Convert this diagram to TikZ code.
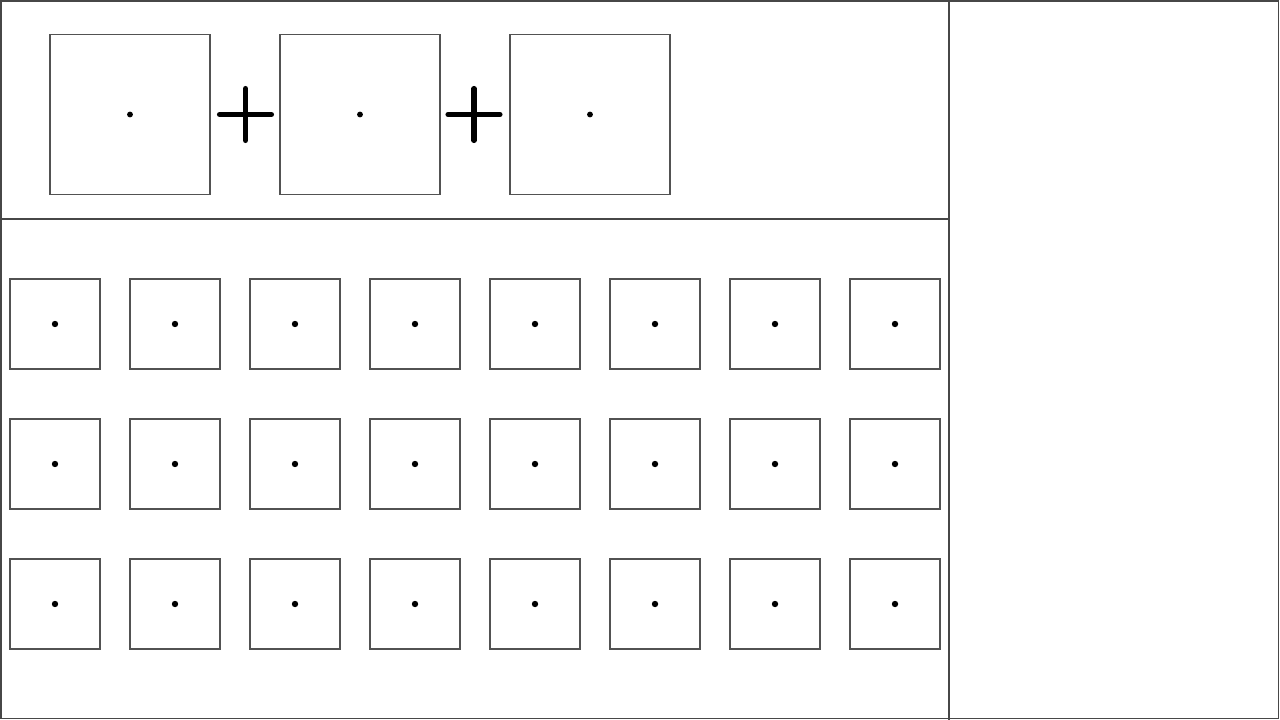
\documentclass[tikz,border=0pt]{standalone}
\begin{document}
\begin{tikzpicture}[x=0.75pt,y=-0.75pt,
  frame/.style={draw=black!72,line width=1.1pt},
  bigbox/.style={draw=black!68,line width=0.8pt,minimum size=120pt,inner sep=0pt,outer sep=0pt},
  smallbox/.style={draw=black!68,line width=0.8pt,minimum size=67.5pt,inner sep=0pt,outer sep=0pt},
  plusline/.style={line width=3.8pt,line cap=round,black}]
\useasboundingbox (0,0) rectangle (1280,720);
\fill[white] (0,0) rectangle (1280,720);
% frame
\coordinate (tl) at (1,1);
\coordinate (br) at (1278.5,718.5);
\draw[frame] (tl) rectangle (br);
\coordinate (vt) at (949,0);
\coordinate (vb) at (949,720);
\draw[frame] (vt) -- (vb);
\coordinate (hl) at (0,219);
\coordinate (hr) at (949,219);
\draw[frame] (hl) -- (hr);
% top boxes
\foreach \i/\cx in {1/130,2/360,3/590}{
  \node[bigbox] (B\i) at (\cx,114.5) {};
  \fill (B\i.center) circle[radius=2.2pt];
}
% plus signs
\foreach \i/\cx in {1/245.5,2/474}{
  \coordinate (P\i) at (\cx,114.5);
  \draw[plusline] ([xshift=-26*0.75pt]P\i) -- ([xshift=26*0.75pt]P\i);
  \draw[plusline] ([yshift=26*0.75pt]P\i) -- ([yshift=-26*0.75pt]P\i);
}
% small boxes
\foreach \r/\cy in {1/324,2/464,3/604}{
  \foreach \c in {0,...,7}{
    \node[smallbox] (S\r-\c) at (55+120*\c,\cy) {};
    \fill (S\r-\c.center) circle[radius=2.4pt];
  }
}
\end{tikzpicture}
\end{document}
